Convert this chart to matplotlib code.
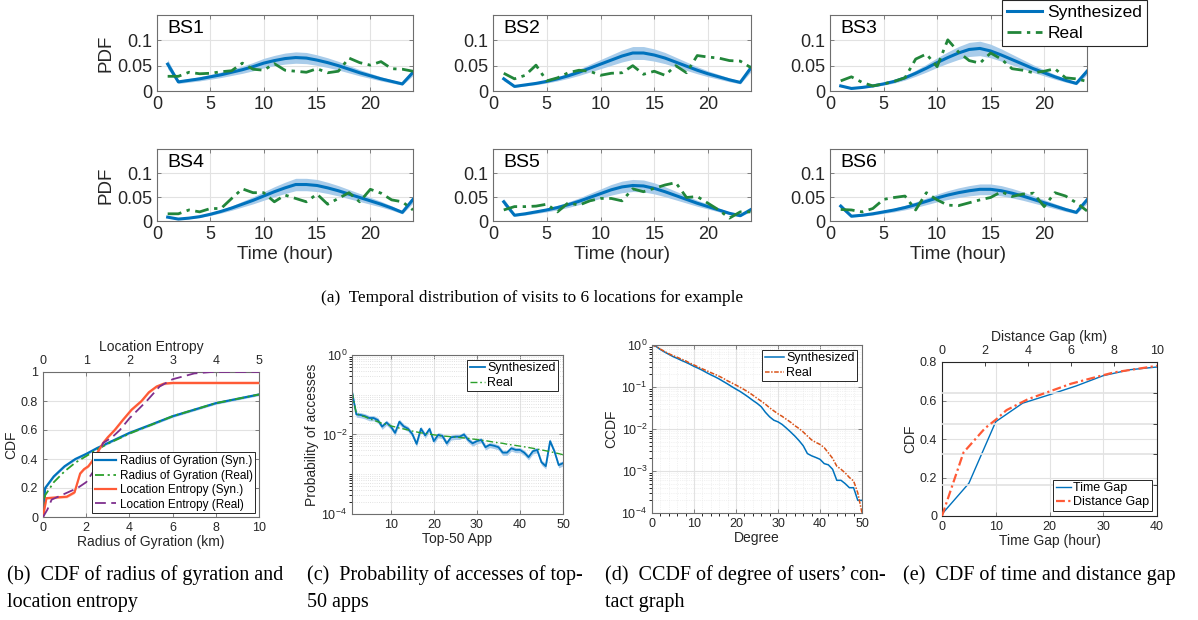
import numpy as np
import matplotlib
matplotlib.use("Agg")
import matplotlib.pyplot as plt
from matplotlib.ticker import LogLocator, NullFormatter, FixedLocator

plt.rcParams['font.family'] = ['Liberation Sans', 'DejaVu Sans']
plt.rcParams['mathtext.default'] = 'regular'

# ---------------- data ----------------
HOURS = list(range(1, 25))
BS_NAMES = ['BS1', 'BS2', 'BS3', 'BS4', 'BS5', 'BS6']

SYN_BS1 = [0.053, 0.018, 0.021, 0.024, 0.028, 0.032, 0.037, 0.042, 0.048, 0.055, 0.060, 0.064,
           0.066, 0.065, 0.061, 0.056, 0.050, 0.043, 0.036, 0.030, 0.024, 0.019, 0.014, 0.037]
REAL_BS1 = [0.029, 0.029, 0.037, 0.034, 0.035, 0.038, 0.040, 0.055, 0.043, 0.041, 0.054, 0.041,
            0.039, 0.037, 0.044, 0.036, 0.039, 0.065, 0.056, 0.051, 0.058, 0.044, 0.043, 0.039]
SYN_BS2 = [0.024, 0.009, 0.012, 0.015, 0.019, 0.024, 0.030, 0.037, 0.045, 0.053, 0.061, 0.069,
           0.075, 0.075, 0.071, 0.065, 0.057, 0.049, 0.041, 0.034, 0.028, 0.022, 0.017, 0.046]
REAL_BS2 = [0.035, 0.024, 0.031, 0.051, 0.020, 0.026, 0.036, 0.041, 0.039, 0.031, 0.035, 0.036,
            0.050, 0.033, 0.039, 0.031, 0.050, 0.036, 0.070, 0.067, 0.065, 0.060, 0.059, 0.046]
SYN_BS3 = [0.010, 0.005, 0.007, 0.010, 0.014, 0.019, 0.026, 0.035, 0.045, 0.056, 0.066, 0.075,
           0.082, 0.084, 0.079, 0.071, 0.062, 0.053, 0.044, 0.036, 0.028, 0.021, 0.015, 0.039]
REAL_BS3 = [0.020, 0.028, 0.017, 0.010, 0.014, 0.019, 0.026, 0.063, 0.073, 0.048, 0.101, 0.077,
            0.060, 0.055, 0.075, 0.063, 0.044, 0.041, 0.036, 0.039, 0.044, 0.026, 0.024, 0.019]
SYN_BS4 = [0.008, 0.004, 0.006, 0.009, 0.014, 0.020, 0.027, 0.035, 0.043, 0.052, 0.061, 0.069,
           0.076, 0.076, 0.074, 0.069, 0.063, 0.056, 0.049, 0.042, 0.035, 0.027, 0.018, 0.045]
REAL_BS4 = [0.015, 0.015, 0.023, 0.019, 0.026, 0.026, 0.047, 0.067, 0.059, 0.059, 0.040, 0.054,
            0.047, 0.040, 0.056, 0.035, 0.047, 0.059, 0.040, 0.066, 0.058, 0.044, 0.040, 0.023]
SYN_BS5 = [0.040, 0.012, 0.015, 0.019, 0.023, 0.028, 0.034, 0.041, 0.049, 0.057, 0.065, 0.071,
           0.074, 0.073, 0.068, 0.061, 0.053, 0.045, 0.037, 0.030, 0.023, 0.016, 0.011, 0.024]
REAL_BS5 = [0.023, 0.030, 0.030, 0.031, 0.035, 0.019, 0.038, 0.033, 0.042, 0.047, 0.047, 0.042,
            0.067, 0.061, 0.068, 0.075, 0.080, 0.049, 0.051, 0.037, 0.023, 0.006, 0.019, 0.019]
SYN_BS6 = [0.031, 0.010, 0.012, 0.015, 0.019, 0.023, 0.028, 0.034, 0.041, 0.048, 0.054, 0.059,
           0.063, 0.066, 0.066, 0.063, 0.058, 0.052, 0.045, 0.038, 0.031, 0.024, 0.018, 0.044]
REAL_BS6 = [0.024, 0.023, 0.019, 0.026, 0.045, 0.049, 0.052, 0.023, 0.059, 0.044, 0.033, 0.032,
            0.038, 0.044, 0.049, 0.061, 0.051, 0.056, 0.058, 0.030, 0.059, 0.052, 0.038, 0.021]
SYN_BS = [SYN_BS1, SYN_BS2, SYN_BS3, SYN_BS4, SYN_BS5, SYN_BS6]
REAL_BS = [REAL_BS1, REAL_BS2, REAL_BS3, REAL_BS4, REAL_BS5, REAL_BS6]
BAND_REL = 0.17  # relative half-width of the shaded band

# (b) radius of gyration (km) and location entropy
ROG_KM = [0, 0.1, 0.5, 1, 1.5, 2, 2.5, 3, 4, 5, 6, 7, 8, 9, 10]
ROG_SYN = [0, 0.20, 0.28, 0.35, 0.40, 0.435, 0.475, 0.51, 0.58, 0.637, 0.695, 0.74, 0.785, 0.815, 0.845]
ROG_REAL = [0, 0.15, 0.24, 0.315, 0.375, 0.42, 0.465, 0.505, 0.575, 0.635, 0.695, 0.74, 0.785, 0.815, 0.845]
ENT_SYN_X = [0, 0.08, 0.3, 0.55, 0.73, 0.8, 0.86, 0.95, 1.05, 1.15, 1.25, 1.39, 1.5, 1.66, 1.85,
             2.05, 2.28, 2.45, 2.63, 2.8, 3.0, 5.0]
ENT_SYN = [0, 0.13, 0.135, 0.14, 0.17, 0.24, 0.30, 0.33, 0.35, 0.39, 0.44, 0.51, 0.55, 0.60, 0.67,
           0.74, 0.80, 0.86, 0.90, 0.92, 0.925, 0.925]
ENT_REAL_X = [0, 0.1, 0.2, 0.5, 0.8, 1.0, 1.2, 1.39, 1.6, 1.78, 2.0, 2.2, 2.4, 2.7, 3.0, 3.5, 3.9, 5.0]
ENT_REAL = [0, 0.05, 0.12, 0.16, 0.20, 0.24, 0.33, 0.51, 0.55, 0.60, 0.68, 0.74, 0.80, 0.90, 0.95,
            0.99, 1.0, 1.0]

# (c) top-50 apps
APP_RANK = list(range(1, 51))
APP_SYN = [0.12, 0.032, 0.031, 0.029, 0.026, 0.026, 0.023, 0.0158, 0.020, 0.016,
           0.011, 0.021, 0.016, 0.014, 0.0103, 0.0058, 0.014, 0.0095, 0.0138, 0.0068,
           0.0098, 0.0092, 0.006, 0.0085, 0.0088, 0.0088, 0.010, 0.0073, 0.006, 0.0068,
           0.0073, 0.0048, 0.0055, 0.0052, 0.0048, 0.0035, 0.0035, 0.0045, 0.0041, 0.0041,
           0.0035, 0.0027, 0.0038, 0.0041, 0.0020, 0.0016, 0.0068, 0.0038, 0.0017, 0.0019]
APP_REAL = [0.12, 0.034, 0.030, 0.028, 0.025, 0.023, 0.021, 0.019, 0.018, 0.0165,
            0.0155, 0.0145, 0.0138, 0.013, 0.0122, 0.0116, 0.011, 0.0106, 0.0102, 0.0098,
            0.0095, 0.0092, 0.009, 0.0088, 0.0086, 0.0084, 0.0082, 0.008, 0.0077, 0.0075,
            0.0072, 0.007, 0.0067, 0.0064, 0.0062, 0.006, 0.0057, 0.0055, 0.0053, 0.0051,
            0.0049, 0.0047, 0.0045, 0.0043, 0.0041, 0.0039, 0.0037, 0.0035, 0.0033, 0.0031]

# (d) degree CCDF
DEGREE = list(range(0, 51))
CCDF_SYN = [1.0, 0.92, 0.78, 0.68, 0.60, 0.53, 0.48, 0.43, 0.39, 0.35, 0.31, 0.28, 0.25, 0.22, 0.195,
            0.175, 0.155, 0.135, 0.118, 0.102, 0.089, 0.078, 0.067, 0.057, 0.048, 0.041, 0.034, 0.025,
            0.0195, 0.0162, 0.0148, 0.0128, 0.0105, 0.0085, 0.0068, 0.0053, 0.0040, 0.0026, 0.0023,
            0.0021, 0.0019, 0.0015, 0.0014, 0.0011, 0.0006, 0.0006, 0.0005, 0.0004, 0.0004, 0.0002, 0.0002]
CCDF_REAL = [1.0, 0.93, 0.80, 0.70, 0.62, 0.56, 0.51, 0.46, 0.42, 0.37, 0.335, 0.30, 0.27, 0.245, 0.22,
             0.20, 0.18, 0.16, 0.14, 0.125, 0.111, 0.098, 0.086, 0.075, 0.064, 0.054, 0.046, 0.039,
             0.032, 0.027, 0.023, 0.020, 0.017, 0.0145, 0.012, 0.0103, 0.0085, 0.0068, 0.0055, 0.0048,
             0.0043, 0.0036, 0.0027, 0.0020, 0.0013, 0.0011, 0.0009, 0.0007, 0.00058, 0.0003, 0.0001]

# (e) time gap and distance gap
TIME_GAP = [0, 5, 10, 15, 20, 25, 30, 35, 40]
TIME_CDF = [0.01, 0.17, 0.49, 0.586, 0.63, 0.676, 0.729, 0.76, 0.774]
DIST_GAP = [0, 1, 2, 2.5, 3, 4, 5, 6, 7, 8, 9, 10]
DIST_CDF = [0, 0.33, 0.456, 0.50, 0.55, 0.607, 0.647, 0.687, 0.717, 0.746, 0.763, 0.78]

# ---------------- style ----------------
W, H = 1198, 620
BLUE = '#0072BD'
BAND = '#A9CCEA'
GREEN = '#22863A'
ORANGE = '#D95319'
RED = '#FF5A36'
PURPLE = '#7E2F8E'
BOX = '#6E6E6E'
GRID = '#E2E2E2'
TXT = '#262626'


def box(x0, y0, x1, y1):
    return [x0 / W, 1 - y1 / H, (x1 - x0) / W, (y1 - y0) / H]


def matlab_axes(ax, size):
    for s in ax.spines.values():
        s.set_color(BOX)
        s.set_linewidth(0.8)
    ax.tick_params(direction='in', top=True, right=True, length=3, width=0.6,
                   colors=BOX, labelcolor=TXT, labelsize=size)
    ax.grid(True, color=GRID, linewidth=0.8)
    ax.set_axisbelow(True)


fig = plt.figure(figsize=(W / 100, H / 100), dpi=100)

# ---------------- (a) six locations ----------------
top_boxes = [(157, 15, 413, 91), (493, 15, 751, 91), (830, 15, 1087, 91),
             (157, 149, 413, 221), (493, 149, 751, 221), (830, 149, 1087, 221)]
for i, name in enumerate(BS_NAMES):
    ax = fig.add_axes(box(*top_boxes[i]))
    matlab_axes(ax, 13)
    syn = np.array(SYN_BS[i])
    ax.fill_between(HOURS, syn * (1 - BAND_REL), syn * (1 + BAND_REL), color=BAND, lw=0)
    l1, = ax.plot(HOURS, syn, color=BLUE, lw=2.2, label='Synthesized')
    l2, = ax.plot(HOURS, REAL_BS[i], color=GREEN, lw=2.0, ls=(0, (5, 2, 1.2, 2)), label='Real')
    ax.set_xlim(0, 24)
    ax.set_ylim(0, 0.15)
    ax.set_xticks([0, 5, 10, 15, 20])
    ax.set_yticks([0, 0.05, 0.1])
    ax.set_yticklabels(['0', '0.05', '0.1'])
    ax.text(0.04, 0.93, name, transform=ax.transAxes, fontsize=14, va='top', ha='left', color='black')
    if i % 3 == 0:
        ax.set_ylabel('PDF', fontsize=13.5, color=TXT, labelpad=2)
    if i >= 3:
        ax.set_xlabel('Time (hour)', fontsize=13.5, color=TXT, labelpad=2)
    if i == 2:
        leg = fig.legend(handles=[l1, l2], loc='upper left', bbox_to_anchor=(1002 / W, 1.0),
                         fontsize=12.5, frameon=True, fancybox=False, edgecolor='#262626',
                         framealpha=1, borderpad=0.3, handlelength=2.0, labelspacing=0.3,
                         handletextpad=0.3, borderaxespad=0)
        leg.get_frame().set_linewidth(0.8)

serif = ['Liberation Serif', 'DejaVu Serif']
fig.text(532 / W, 1 - 298 / H, '(a)  Temporal distribution of visits to 6 locations for example',
         ha='center', va='center', fontsize=12.4, family=serif)

# ---------------- (b) radius of gyration / entropy ----------------
ax_b = fig.add_axes(box(43, 372, 259, 517))
matlab_axes(ax_b, 9)
ax_b.tick_params(top=False)
rog_syn = np.array(ROG_SYN)
ax_b.fill_between(ROG_KM, rog_syn - 0.008, rog_syn + 0.008, color=BAND, lw=0)
h1, = ax_b.plot(ROG_KM, ROG_SYN, color=BLUE, lw=1.6, label='Radius of Gyration (Syn.)')
h2, = ax_b.plot(ROG_KM, ROG_REAL, color='#2CA02C', lw=1.3, ls=(0, (5, 2, 1.2, 2)),
                label='Radius of Gyration (Real)')
ax_b.set_xlim(0, 10)
ax_b.set_ylim(0, 1)
ax_b.set_xticks([0, 2, 4, 6, 8, 10])
ax_b.set_yticks([0, 0.2, 0.4, 0.6, 0.8, 1])
ax_b.set_yticklabels(['0', '0.2', '0.4', '0.6', '0.8', '1'])
ax_b.set_xlabel('Radius of Gyration (km)', fontsize=10, color=TXT, labelpad=1)
ax_b.set_ylabel('CDF', fontsize=10, color=TXT, labelpad=2)
ax_bt = ax_b.twiny()
ax_bt.set_xlim(0, 5)
ax_bt.set_xticks([0, 1, 2, 3, 4, 5])
ax_bt.tick_params(direction='in', length=3, width=0.6, colors=BOX, labelcolor=TXT, labelsize=9)
for s in ax_bt.spines.values():
    s.set_visible(False)
ent_syn = np.array(ENT_SYN)
ax_bt.fill_between(ENT_SYN_X, ent_syn - 0.008, ent_syn + 0.008, color='#FFC2B0', lw=0)
h3, = ax_bt.plot(ENT_SYN_X, ENT_SYN, color=RED, lw=1.6, label='Location Entropy (Syn.)')
h4, = ax_bt.plot(ENT_REAL_X, ENT_REAL, color=PURPLE, lw=1.3, ls=(0, (6, 3)),
                 label='Location Entropy (Real)')
ax_bt.set_xlabel('Location Entropy', fontsize=10, color=TXT, labelpad=3)
leg = ax_bt.legend(handles=[h1, h2, h3, h4], loc='lower right', fontsize=8.5, frameon=True,
                   fancybox=False, edgecolor='#262626', framealpha=1, borderpad=0.25,
                   handlelength=1.8, labelspacing=0.2, handletextpad=0.3, borderaxespad=0.3)
leg.get_frame().set_linewidth(0.7)

# ---------------- (c) top-50 apps ----------------
ax_c = fig.add_axes(box(352, 355, 563, 514))
matlab_axes(ax_c, 9)
ax_c.set_yscale('log')
app_syn = np.array(APP_SYN)
ax_c.fill_between(APP_RANK, app_syn * 0.85, app_syn * 1.15, color=BAND, lw=0)
c1, = ax_c.plot(APP_RANK, APP_SYN, color=BLUE, lw=1.3, label='Synthesized')
c2, = ax_c.plot(APP_RANK, APP_REAL, color='#2CA02C', lw=1.0, ls=(0, (5, 2, 1.2, 2)), label='Real')
ax_c.set_xlim(1, 50)
ax_c.set_ylim(1e-4, 1)
ax_c.set_xticks([10, 20, 30, 40, 50])
ax_c.set_yticks([1e-4, 1e-2, 1])
ax_c.yaxis.set_minor_locator(LogLocator(base=10, subs=np.arange(1, 10), numticks=20))
ax_c.yaxis.set_minor_formatter(NullFormatter())
ax_c.grid(True, which='minor', axis='y', color='#D8D8D8', lw=0.6, ls=':')
ax_c.set_xlabel('Top-50 App', fontsize=10, color=TXT, labelpad=1)
ax_c.set_ylabel('Probability of accesses', fontsize=10, color=TXT, labelpad=2)
leg = ax_c.legend(handles=[c1, c2], loc='upper right', fontsize=9, frameon=True, fancybox=False,
                  edgecolor='#262626', framealpha=1, borderpad=0.2, handlelength=1.2,
                  labelspacing=0.2, handletextpad=0.2, borderaxespad=0.4)
leg.get_frame().set_linewidth(0.7)

# ---------------- (d) degree CCDF ----------------
ax_d = fig.add_axes(box(652, 345, 862, 513))
matlab_axes(ax_d, 9)
ax_d.set_yscale('log')
d1, = ax_d.plot(DEGREE, CCDF_SYN, color=BLUE, lw=1.1, label='Synthesized')
d2, = ax_d.plot(DEGREE, CCDF_REAL, color=ORANGE, lw=1.1, ls=(0, (3, 1, 1, 1)), label='Real')
ax_d.set_xlim(0, 50)
ax_d.set_ylim(1e-4, 1)
ax_d.set_xticks([0, 10, 20, 30, 40, 50])
ax_d.set_yticks([1e-4, 1e-3, 1e-2, 1e-1, 1])
ax_d.yaxis.set_minor_locator(LogLocator(base=10, subs=np.arange(2, 10), numticks=20))
ax_d.yaxis.set_minor_formatter(NullFormatter())
ax_d.xaxis.set_minor_locator(FixedLocator(np.arange(0, 51, 2)))
ax_d.grid(True, which='minor', color='#E6E6E6', lw=0.5, ls=':')
ax_d.set_xlabel('Degree', fontsize=10, color=TXT, labelpad=1)
ax_d.set_ylabel('CCDF', fontsize=10, color=TXT, labelpad=2)
leg = ax_d.legend(handles=[d1, d2], loc='upper right', fontsize=9, frameon=True, fancybox=False,
                  edgecolor='#262626', framealpha=1, borderpad=0.2, handlelength=1.5,
                  labelspacing=0.2, handletextpad=0.2, borderaxespad=0.4)
leg.get_frame().set_linewidth(0.7)

# ---------------- (e) time / distance gap ----------------
ax_e = fig.add_axes(box(942, 362, 1157, 516))
matlab_axes(ax_e, 9)
ax_e.tick_params(top=False, right=False)
for s in ax_e.spines.values():
    s.set_color('#262626')
e1, = ax_e.plot(TIME_GAP, TIME_CDF, color=BLUE, lw=1.0, label='Time Gap')
ax_e.set_xlim(0, 40)
ax_e.set_ylim(0, 0.8)
ax_e.set_xticks([0, 10, 20, 30, 40])
ax_e.set_yticks([0, 0.2, 0.4, 0.6, 0.8])
ax_e.set_yticklabels(['0', '0.2', '0.4', '0.6', '0.8'])
ax_e.set_xlabel('Time Gap (hour)', fontsize=10, color=TXT, labelpad=1)
ax_e.set_ylabel('CDF', fontsize=10, color=TXT, labelpad=2)
ax_er = ax_e.twinx()
ax_er.set_ylim(0, 0.8)
ax_er.set_yticks([0.16, 0.32, 0.48, 0.64])
ax_er.set_yticklabels([])
ax_er.tick_params(direction='in', length=3, width=0.6, colors='#262626')
ax_er.grid(True, color=GRID, lw=1.2)
ax_et = ax_e.twiny()
ax_et.set_xlim(0, 10)
ax_et.set_xticks([0, 2, 4, 6, 8, 10])
ax_et.tick_params(direction='in', length=3, width=0.6, colors='#262626', labelcolor=TXT, labelsize=9)
for a in (ax_er, ax_et):
    for s in a.spines.values():
        s.set_visible(False)
e2, = ax_et.plot(DIST_GAP, DIST_CDF, color=RED, lw=1.6, ls=(0, (4, 1.5, 1, 1.5)), label='Distance Gap')
ax_et.set_xlabel('Distance Gap (km)', fontsize=10, color=TXT, labelpad=3)
leg = ax_et.legend(handles=[e1, e2], loc='lower right', fontsize=9, frameon=True, fancybox=False,
                   edgecolor='#262626', framealpha=1, borderpad=0.2, handlelength=1.2,
                   labelspacing=0.2, handletextpad=0.2, borderaxespad=0.4)
leg.get_frame().set_linewidth(0.7)

# ---------------- captions ----------------
cap = dict(ha='left', va='center', fontsize=14.5, family=serif)
fig.text(7 / W, 1 - 575 / H, '(b)  CDF of radius of gyration and', **cap)
fig.text(7 / W, 1 - 602 / H, 'location entropy', **cap)
fig.text(307 / W, 1 - 575 / H, '(c)  Probability of accesses of top-', **cap)
fig.text(307 / W, 1 - 602 / H, '50 apps', **cap)
fig.text(605 / W, 1 - 575 / H, '(d)  CCDF of degree of users\u2019 con-', **cap)
fig.text(605 / W, 1 - 602 / H, 'tact graph', **cap)
fig.text(903 / W, 1 - 575 / H, '(e)  CDF of time and distance gap', **cap)

fig.savefig('out.png', dpi=100)
